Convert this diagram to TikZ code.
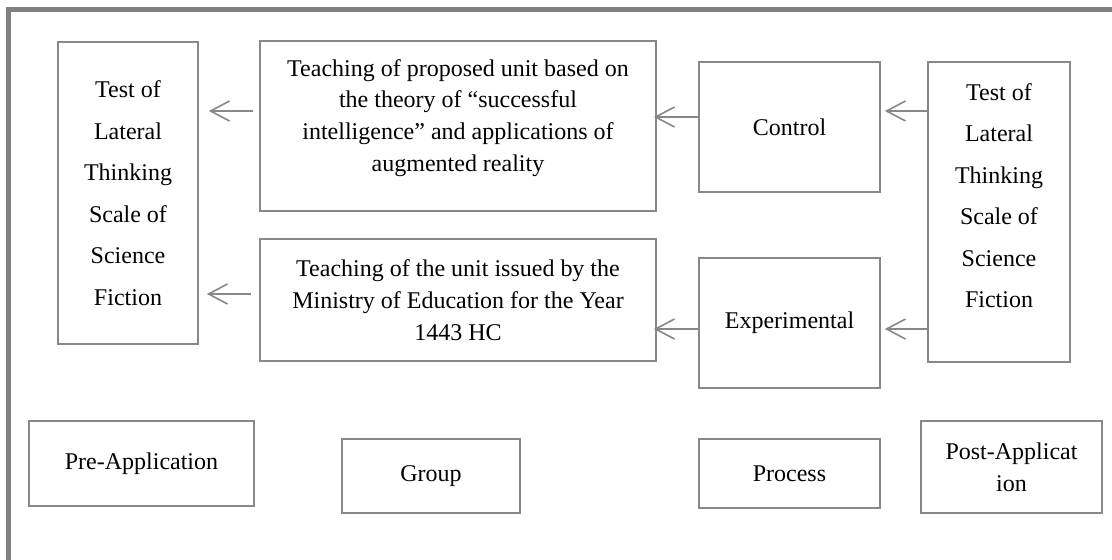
\documentclass[tikz,border=0pt]{standalone}
\usepackage{fontspec}
\setmainfont{Liberation Serif}
\usepackage{xcolor}
\usepackage{tikz}
\usetikzlibrary{arrows.meta}
\definecolor{framegray}{RGB}{128,128,128}
\definecolor{linegray}{RGB}{136,136,136}
\tikzset{every picture/.style={line width=1.5pt}}

\begin{document}
\begin{tikzpicture}[x=1pt,y=-1pt,
 every node/.style={font=\fontsize{24}{31.7}\selectfont,align=center,inner sep=0pt},
 box/.style={draw=linegray,line width=1.6pt},
 tallbox/.style={box,font=\fontsize{24}{41.5}\selectfont},
 arr/.style={draw=linegray,line width=1.6pt,-{Straight Barb[length=19pt,width=20pt]}}]
 \useasboundingbox (0,0) rectangle (1112,560);
 \draw[framegray,line width=4.5pt] (8.5,560) -- (8.5,9.5) -- (1112,9.5);
 \node[tallbox,minimum width=140pt,minimum height=302pt] (testL) at (128,193)
  {Test of\\Lateral\\Thinking\\Scale of\\Science\\Fiction};
 \node[box,minimum width=396pt,minimum height=170pt,text height=112.1pt,text depth=21.9pt] (teachA) at (458,126)
  {Teaching of proposed unit based on\\the theory of “successful\\intelligence” and applications of\\augmented reality};
 \node[box,minimum width=396pt,minimum height=122pt] (teachB) at (458,300)
  {Teaching of the unit issued by the\\Ministry of Education for the Year\\1443 HC};
 \node[box,minimum width=181pt,minimum height=130pt] (control) at (789.5,127) {Control};
 \node[box,minimum width=181pt,minimum height=130pt] (exp) at (789.5,323) {Experimental};
 \node[tallbox,minimum width=142pt,minimum height=300pt,text height=224.5pt,text depth=33.5pt] (testR) at (999,212)
  {Test of\\Lateral\\Thinking\\Scale of\\Science\\Fiction};
 \node[box,minimum width=225pt,minimum height=85pt] (pre) at (141.5,463.5) {Pre-Application};
 \node[box,minimum width=178pt,minimum height=74pt] (group) at (431,476) {Group};
 \node[box,minimum width=181pt,minimum height=69pt] (process) at (789.5,473.5) {Process};
 \node[box,minimum width=181pt,minimum height=92pt] (post) at (1011.5,467) {Post-Applicat\\ion};
 \draw[arr,shorten <=6pt,shorten >=10pt] ([yshift=15pt]teachA.west) -- ([yshift=15pt]teachA.west -| testL.east);
 \draw[arr,shorten >=-3pt] ([yshift=10pt]control.west) -- ([yshift=10pt]control.west -| teachA.east);
 \draw[arr,shorten >=4pt] ([yshift=16pt]control.east -| testR.west) -- ([yshift=16pt]control.east);
 \draw[arr,shorten <=8pt,shorten >=8pt] ([yshift=6pt]teachB.west) -- ([yshift=6pt]teachB.west -| testL.east);
 \draw[arr,shorten >=-3pt] ([yshift=-6pt]exp.west) -- ([yshift=-6pt]exp.west -| teachB.east);
 \draw[arr,shorten >=4pt] ([yshift=-6pt]exp.east -| testR.west) -- ([yshift=-6pt]exp.east);
\end{tikzpicture}
\end{document}
